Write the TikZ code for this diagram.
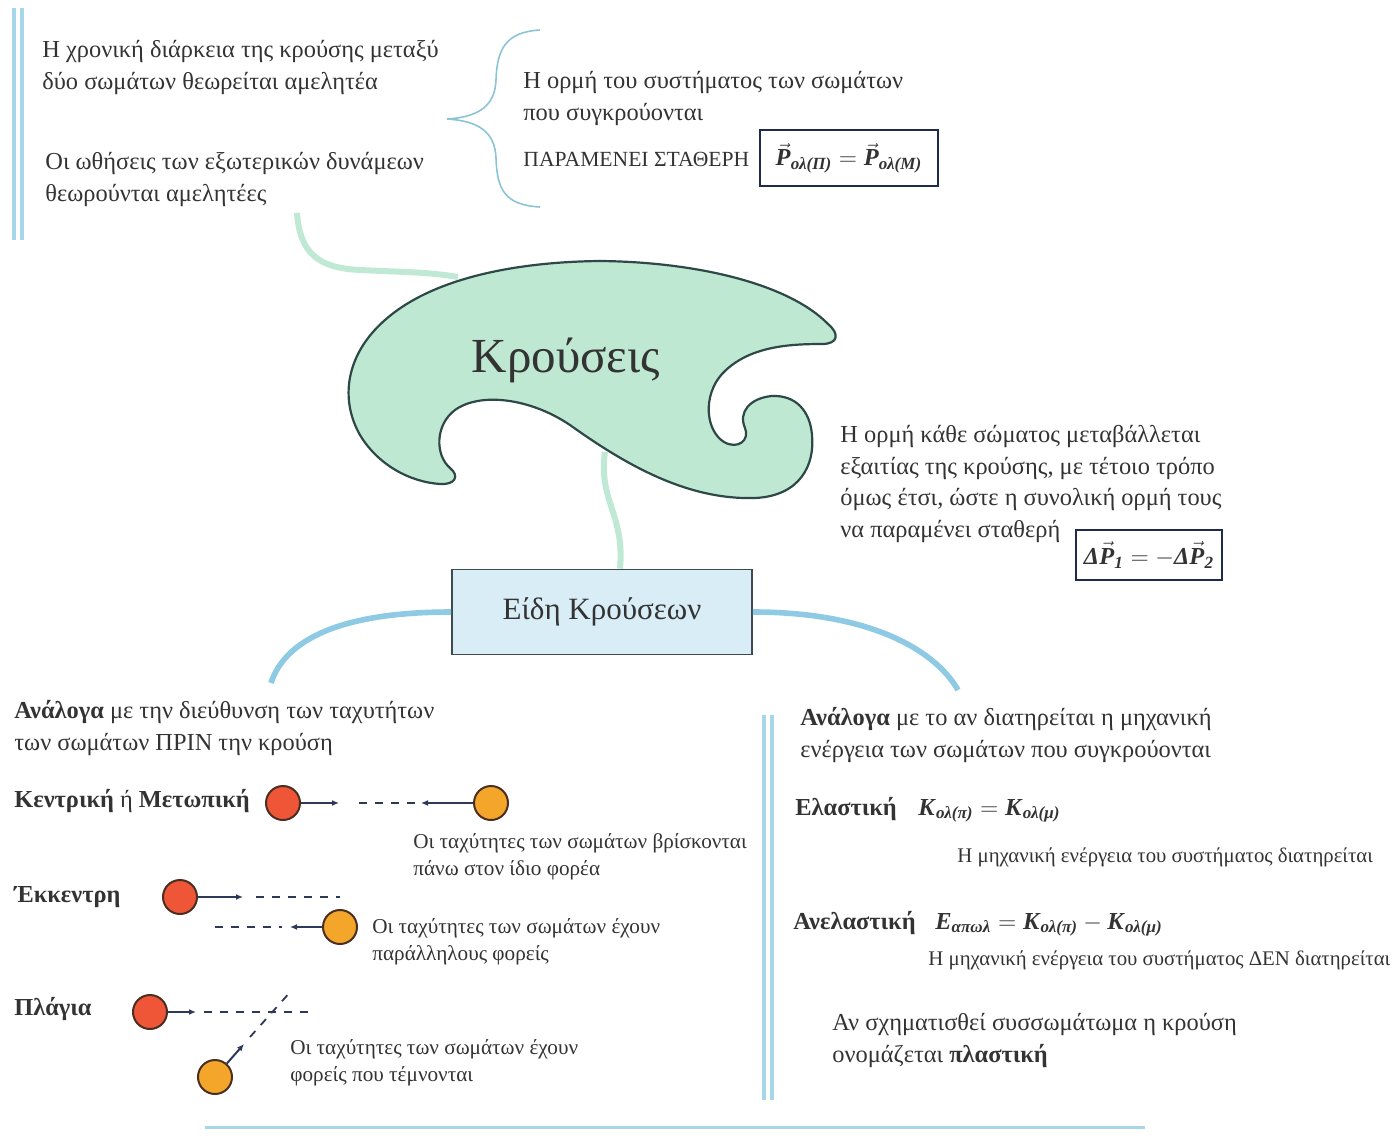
\documentclass[tikz,border=0pt]{standalone}
\usepackage{fontspec}
\setmainfont{Liberation Serif}
\usepackage{amsmath}
\usetikzlibrary{arrows.meta}
\definecolor{txtc}{HTML}{333333}
\definecolor{lblue}{HTML}{A6D6EA}
\definecolor{arcblue}{HTML}{8ECAE4}
\definecolor{bracec}{HTML}{8CC4D6}
\definecolor{lgreen}{HTML}{BFE9D4}
\definecolor{blobfill}{HTML}{BFE8D3}
\definecolor{blobedge}{HTML}{2E4848}
\definecolor{boxfill}{HTML}{D8EDF5}
\definecolor{boxedge}{HTML}{3E4A50}
\definecolor{navy}{HTML}{1F2A4C}
\definecolor{redc}{HTML}{EF5638}
\definecolor{orc}{HTML}{F4A62A}
\definecolor{balledge}{HTML}{4A2E22}
\definecolor{velc}{HTML}{2E3858}
\newcommand\mybi[1]{\textbf{\textit{#1}}}
\newcommand\fsmain{\fontsize{12.2}{15.75}\selectfont}
\newcommand\fssmall{\fontsize{10.6}{13.5}\selectfont}
\newcommand\fstiny{\fontsize{10.4}{12}\selectfont}
\begin{document}
\begin{tikzpicture}[x=0.5pt,y=-0.5pt,
  txt/.style={anchor=base west, inner sep=0pt, align=left, text=txtc, font=\fsmain},
  stxt/.style={txt, font=\fssmall},
  ttxt/.style={txt, font=\fstiny},
  fbox/.style={draw=navy, line width=1.3pt, inner sep=4pt, text=txtc, font=\fsmain},
  ball/.style={circle, draw=balledge, line width=1pt, minimum size=17pt, inner sep=0pt},
  redball/.style={ball, fill=redc},
  orball/.style={ball, fill=orc},
  vel/.style={draw=velc, line width=1pt, -{Latex[length=3.5pt,width=3pt]}},
  trace/.style={draw=velc, line width=0.9pt, dash pattern=on 4pt off 4pt},
  dline/.style={draw=lblue, line width=1.6pt},
  gconn/.style={draw=lgreen, line width=3pt},
  bconn/.style={draw=arcblue, line width=2.8pt},
]
\useasboundingbox (0,0) rectangle (1393,1140);

% ---------- top-left block
\draw[dline] (14,8) -- (14,240);
\draw[dline] (22,8) -- (22,240);
\node[txt] (t1) at (42,89) {Η χρονική διάρκεια της κρούσης μεταξύ\\δύο σωμάτων θεωρείται αμελητέα};
\node[txt] (t2) at (45,201) {Οι ωθήσεις των εξωτερικών δυνάμεων\\θεωρούνται αμελητέες};

% ---------- brace and momentum conservation
\draw[draw=bracec, line width=0.8pt] (540,30) .. controls (505,32) and (497,50) .. (496,80)
  .. controls (495,105) and (480,117) .. (447,119)
  .. controls (480,121) and (495,133) .. (496,158)
  .. controls (497,190) and (505,205) .. (540,207);
\node[txt] (t3) at (523,120) {Η ορμή του συστήματος των σωμάτων\\που συγκρούονται};
\node[txt, font=\fontsize{10.8}{13}\selectfont] (t4) at (523,166) {ΠΑΡΑΜΕΝΕΙ ΣΤΑΘΕΡΗ};
\node[fbox, minimum width=89pt, minimum height=28pt] (f1) at (849,158)
  {$\vec{\text{\mybi{P}}}_{\text{\mybi{ολ(Π)}}} = \vec{\text{\mybi{P}}}_{\text{\mybi{ολ(Μ)}}}$};

% ---------- central blob
\coordinate (blobtop) at (458,277);
\coordinate (blobbot) at (605,452);
\path[fill=blobfill, draw=blobedge, line width=1.1pt] (600,261)
 .. controls (510,262) and (430,280) .. (385,320)
 .. controls (345,355) and (340,400) .. (360,435)
 .. controls (378,465) and (410,482) .. (440,484)
 .. controls (455,485) and (460,476) .. (450,468)
 .. controls (435,455) and (435,425) .. (455,410)
 .. controls (480,392) and (530,398) .. (570,425)
 .. controls (630,468) and (690,500) .. (755,498)
 .. controls (800,496) and (815,465) .. (812,435)
 .. controls (810,410) and (795,395) .. (772,396)
 .. controls (750,398) and (738,412) .. (745,428)
 .. controls (750,440) and (738,450) .. (724,442)
 .. controls (705,430) and (703,395) .. (722,374)
 .. controls (748,346) and (790,344) .. (822,344)
 .. controls (838,344) and (840,334) .. (828,324)
 .. controls (790,285) and (700,262) .. (600,261) -- cycle;
\node[inner sep=0pt, text=txtc, font=\fontsize{24.5}{28}\selectfont] (main) at (566,360) {Κρούσεις};

\coordinate (c1) at (297,213);
\draw[gconn] (c1) .. controls (300,255) and (320,268) .. (360,270)
  .. controls (400,272) and (430,272) .. (blobtop);

% ---------- types box
\node[draw=boxedge, fill=boxfill, line width=0.9pt, minimum width=150pt, minimum height=42.5pt,
  inner sep=0pt, text=txtc, font=\fontsize{15.5}{18}\selectfont] (types) at (602,612) {Είδη Κρούσεων};
\draw[gconn] (blobbot) .. controls (598,500) and (625,515) .. (types.north -| 620,0);

\coordinate (la) at (271,683);
\coordinate (ra) at (958,690);
\draw[bconn] (types.west) .. controls (340,612) and (285,640) .. (la);
\draw[bconn] (types.east) .. controls (870,612) and (935,650) .. (ra);

% ---------- right middle text
\node[txt] (t5) at (840,537) {Η ορμή κάθε σώματος μεταβάλλεται\\εξαιτίας της κρούσης, με τέτοιο τρόπο\\όμως έτσι, ώστε η συνολική ορμή τους\\να παραμένει σταθερή};
\node[fbox, minimum width=73pt, minimum height=25pt] (f2) at (1149,555)
  {$\text{\mybi{Δ}}\vec{\text{\mybi{P}}}_{\text{\mybi{1}}} = -\text{\mybi{Δ}}\vec{\text{\mybi{P}}}_{\text{\mybi{2}}}$};

% ---------- bottom-left block
\node[txt] (t6) at (14,750) {\textbf{Ανάλογα} με την διεύθυνση των ταχυτήτων\\των σωμάτων ΠΡΙΝ την κρούση};

\node[txt] (k) at (14,807) {\textbf{Κεντρική} ή \textbf{Μετωπική}};
\node[redball] (k1) at (283,803) {};
\node[orball] (k2) at (491,803) {};
\coordinate (ka) at (339,803);
\coordinate (kb) at (421,803);
\draw[vel] (k1) -- (ka);
\draw[vel] (k2) -- (kb);
\draw[trace] (359,803) -- (416,803);
\node[stxt] (k3) at (413,875) {Οι ταχύτητες των σωμάτων βρίσκονται\\πάνω στον ίδιο φορέα};

\node[txt] (e) at (14,902) {\textbf{Έκκεντρη}};
\node[redball] (e1) at (180,897) {};
\node[orball] (e2) at (340,927) {};
\coordinate (ea) at (243,897);
\coordinate (eb) at (290,927);
\draw[vel] (e1) -- (ea);
\draw[vel] (e2) -- (eb);
\draw[trace] (256,897) -- (340,897);
\draw[trace] (215,927) -- (282,927);
\node[stxt] (e3) at (372,960) {Οι ταχύτητες των σωμάτων έχουν\\παράλληλους φορείς};

\node[txt] (p) at (14,1015) {\textbf{Πλάγια}};
\node[redball] (p1) at (150,1012) {};
\node[orball] (p2) at (215,1077) {};
\coordinate (pa) at (196,1012);
\coordinate (pb) at (244,1044);
\draw[vel] (p1) -- (pa);
\draw[vel] (p2) -- (pb);
\draw[trace] (204,1012) -- (314,1012);
\draw[trace] (250,1037) -- (292,990);
\node[stxt] (p3) at (290,1081) {Οι ταχύτητες των σωμάτων έχουν\\φορείς που τέμνονται};

% ---------- bottom-right block
\draw[dline] (764,715) -- (764,1100);
\draw[dline] (772,715) -- (772,1100);
\node[txt] (t7) at (800,757) {\textbf{Ανάλογα} με το αν διατηρείται η μηχανική\\ενέργεια των σωμάτων που συγκρούονται};
\node[txt] (el) at (795,815) {\textbf{Ελαστική}};
\node[txt] (elf) at (918,815) {$\text{\mybi{K}}_{\text{\mybi{ολ(π)}}} = \text{\mybi{K}}_{\text{\mybi{ολ(μ)}}}$};
\node[ttxt] (elt) at (957,862) {Η μηχανική ενέργεια του συστήματος διατηρείται};
\node[txt] (an) at (793,929) {\textbf{Ανελαστική}};
\node[txt] (anf) at (935,929) {$\text{\mybi{E}}_{\text{\mybi{απωλ}}} = \text{\mybi{K}}_{\text{\mybi{ολ(π)}}} - \text{\mybi{K}}_{\text{\mybi{ολ(μ)}}}$};
\node[ttxt] (ant) at (928,965) {Η μηχανική ενέργεια του συστήματος ΔΕΝ διατηρείται};
\node[txt] (pl) at (832,1062) {Αν σχηματισθεί συσσωμάτωμα η κρούση\\ονομάζεται \textbf{πλαστική}};

\draw[draw=lblue, line width=1.5pt] (205,1127) -- (1145,1127);
\end{tikzpicture}
\end{document}
